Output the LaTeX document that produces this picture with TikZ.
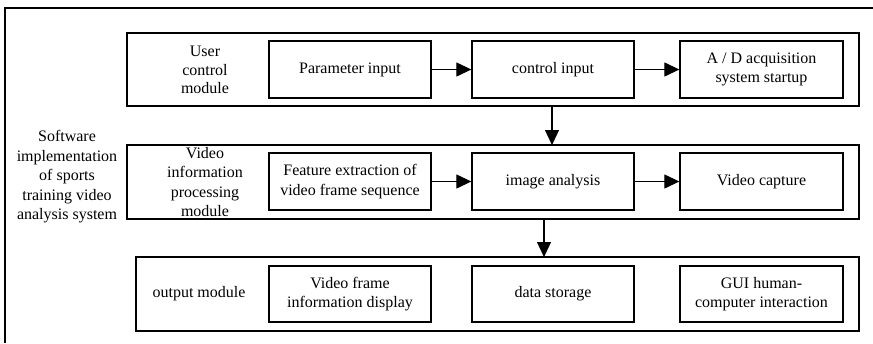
\documentclass[tikz,border=0pt]{standalone}
\usepackage{fontspec}
\setmainfont{Liberation Serif}
\usetikzlibrary{arrows.meta}
\begin{document}
\begin{tikzpicture}[x=1pt,y=-1pt,
  line width=1.2pt,
  lbl/.style={font=\fontsize{16}{18.8}\selectfont, align=center, inner sep=0pt},
  module/.style={draw, line width=1.3pt},
  unit/.style={draw, line width=1.3pt, inner sep=0pt, font=\fontsize{16}{19.5}\selectfont, align=center},
  flow/.style={-{Triangle[length=15pt,width=14pt]}, line width=1.2pt}]
\useasboundingbox (0,0) rectangle (873,343);
% system frame
\draw[line width=1.1pt] (873,8) -- (5,8) -- (5,343);
\node[lbl, font=\fontsize{16}{19.5}\selectfont] (sys) at (67,177) {Software\\implementation\\of sports\\training video\\analysis system};

% module frames
\draw[module] (127,33) rectangle (859,106);
\draw[module] (127,145) rectangle (859,219);
\draw[module] (136,257) rectangle (859,331);

% module labels
\node[lbl] (m1) at (205,70) {User\\control\\module};
\node[lbl, font=\fontsize{16}{19.5}\selectfont] (m2) at (205,182) {Video\\information\\processing\\module};
\node[lbl] (m3) at (199,294) {output module};

% row 1
\node[unit, minimum width=162pt, minimum height=57pt] (p1) at (350,69.5) {Parameter input};
\node[unit, minimum width=162pt, minimum height=57pt] (p2) at (553,69.5) {control input};
\node[unit, minimum width=163pt, minimum height=57pt] (p3) at (761.5,69.5) {A / D acquisition\\system startup};
% row 2
\node[unit, minimum width=162pt, minimum height=57pt] (q1) at (350,181.5) {Feature extraction of\\video frame sequence};
\node[unit, minimum width=162pt, minimum height=57pt] (q2) at (553,181.5) {image analysis};
\node[unit, minimum width=163pt, minimum height=57pt] (q3) at (761.5,181.5) {Video capture};
% row 3
\node[unit, minimum width=162pt, minimum height=56pt] (r1) at (350,294) {Video frame\\information display};
\node[unit, minimum width=162pt, minimum height=56pt] (r2) at (553,294) {data storage};
\node[unit, minimum width=163pt, minimum height=56pt] (r3) at (761.5,294) {GUI human-\\computer interaction};

% connectors
\coordinate (a1) at (552,106);
\coordinate (a2) at (552,145);
\coordinate (b1) at (544,219);
\coordinate (b2) at (544,257);
\draw[flow] (p1) -- (p2);
\draw[flow] (p2) -- (p3);
\draw[flow] (q1) -- (q2);
\draw[flow] (q2) -- (q3);
\draw[flow] (a1) -- (a2);
\draw[flow] (b1) -- (b2);
\end{tikzpicture}
\end{document}
